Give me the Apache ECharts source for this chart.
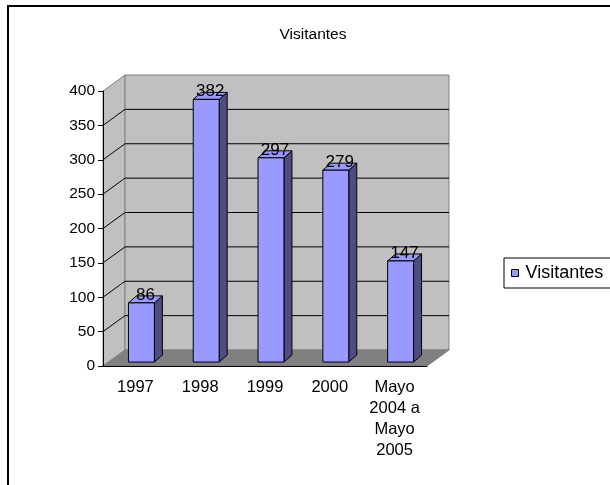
<!DOCTYPE html>
<html>
<head>
<meta charset="utf-8">
<script src="https://cdn.jsdelivr.net/npm/echarts@6/dist/echarts.min.js"></script>
<style>
  html, body { margin: 0; padding: 0; background: #fff; }
  #chart { width: 610px; height: 485px; }
</style>
</head>
<body>
<div id="chart"></div>
<script>
const categories = ['1997', '1998', '1999', '2000', 'Mayo\n2004 a\nMayo\n2005']
const visitantes = [86, 382, 297, 279, 147]
const yTicks = [0, 50, 100, 150, 200, 250, 300, 350, 400]

const FONT = "'Liberation Sans', Arial, sans-serif"
// 3D look: wall depth and bar depth (pixels)
const WALL_DX = 22
const WALL_DY = -16
const BAR_OX = 6
const BAR_OY = -4
const BAR_DX = 8
const BAR_DY = -7

const chart = echarts.init(document.getElementById('chart'))

const renderWalls = (params, api) => {
  const cs = params.coordSys
  const x0 = cs.x
  const x1 = cs.x + cs.width
  const yTop = api.coord([0, yTicks[yTicks.length - 1]])[1]
  const yBot = api.coord([0, 0])[1]
  const children = [
    {
      type: 'polygon',
      shape: { points: [[x0, yTop], [x0, yBot], [x0 + WALL_DX, yBot + WALL_DY], [x0 + WALL_DX, yTop + WALL_DY]] },
      style: { fill: '#c0c0c0', stroke: '#808080', lineWidth: 1 }
    },
    {
      type: 'rect',
      shape: { x: x0 + WALL_DX, y: yTop + WALL_DY, width: x1 - x0, height: yBot - yTop },
      style: { fill: '#c0c0c0', stroke: '#808080', lineWidth: 1 }
    },
    {
      type: 'polygon',
      shape: { points: [[x0, yBot], [x1, yBot], [x1 + WALL_DX, yBot + WALL_DY], [x0 + WALL_DX, yBot + WALL_DY]] },
      style: { fill: '#808080', stroke: '#808080', lineWidth: 1 }
    }
  ]
  yTicks.slice(1, -1).forEach(v => {
    const y = api.coord([0, v])[1]
    children.push({
      type: 'polyline',
      shape: { points: [[x0, y], [x0 + WALL_DX, y + WALL_DY], [x1 + WALL_DX, y + WALL_DY]] },
      style: { stroke: '#000', lineWidth: 1, fill: null }
    })
  })
  return { type: 'group', children }
}

const renderBar = (params, api) => {
  const i = api.value(0)
  const v = api.value(1)
  const top = api.coord([i, v])
  const base = api.coord([i, 0])
  const bw = api.size([1, 0])[0] * 0.4
  const fx = top[0] + BAR_OX - bw / 2
  const ty = top[1] + BAR_OY
  const by = base[1] + BAR_OY
  return {
    type: 'group',
    children: [
      {
        type: 'polygon',
        shape: { points: [[fx + bw, ty], [fx + bw + BAR_DX, ty + BAR_DY], [fx + bw + BAR_DX, by + BAR_DY], [fx + bw, by]] },
        style: { fill: '#4d4d80', stroke: '#000', lineWidth: 1 }
      },
      {
        type: 'polygon',
        shape: { points: [[fx, ty], [fx + BAR_DX, ty + BAR_DY], [fx + bw + BAR_DX, ty + BAR_DY], [fx + bw, ty]] },
        style: { fill: '#9999ff', stroke: '#000', lineWidth: 1 }
      },
      {
        type: 'rect',
        shape: { x: fx, y: ty, width: bw, height: by - ty },
        style: { fill: '#9999ff', stroke: '#000', lineWidth: 1 }
      },
      {
        type: 'text',
        style: {
          text: String(v),
          x: fx + (bw + BAR_DX) / 2,
          y: ty - 8,
          align: 'center',
          verticalAlign: 'middle',
          fill: '#000',
          font: '17px ' + FONT
        }
      }
    ]
  }
}

const option = {
  animation: false,
  textStyle: { fontFamily: FONT },
  title: {
    text: 'Visitantes',
    left: 308,
    textAlign: 'center',
    top: 22,
    textStyle: { fontSize: 15.5, fontWeight: 'normal', color: '#000', fontFamily: FONT }
  },
  legend: {
    data: ['Visitantes'],
    left: 504,
    top: 258,
    padding: [6, 40, 6, 7],
    borderColor: '#000',
    borderWidth: 1,
    icon: 'rect',
    itemWidth: 7,
    itemHeight: 7,
    itemStyle: { borderColor: '#000', borderWidth: 1 },
    textStyle: { fontSize: 18, color: '#000', fontFamily: FONT, padding: [0, 0, 0, 2] }
  },
  graphic: [
    {
      type: 'rect',
      shape: { x: 8, y: 6, width: 700, height: 600 },
      style: { fill: null, stroke: '#000', lineWidth: 2 }
    }
  ],
  grid: { left: 103, right: 183, top: 91, bottom: 119 },
  xAxis: {
    type: 'category',
    data: categories,
    z: 5,
    axisLine: { lineStyle: { color: '#000', width: 1 } },
    axisTick: { length: 7, lineStyle: { color: '#000' } },
    axisLabel: { color: '#000', fontSize: 16.5, lineHeight: 21, margin: 11, fontFamily: FONT, interval: 0 }
  },
  yAxis: {
    type: 'value',
    min: 0,
    max: 400,
    interval: 50,
    z: 5,
    axisLine: { show: true, lineStyle: { color: '#000', width: 1 } },
    axisTick: { show: true, length: 5, lineStyle: { color: '#000' } },
    axisLabel: { color: '#000', fontSize: 15.5, margin: 8, fontFamily: FONT },
    splitLine: { show: false }
  },
  series: [
    {
      name: 'walls',
      type: 'custom',
      z: 1,
      silent: true,
      clip: false,
      renderItem: renderWalls,
      data: [[0, 0]]
    },
    {
      name: 'Visitantes',
      type: 'custom',
      z: 2,
      clip: false,
      itemStyle: { color: '#9999ff' },
      renderItem: renderBar,
      data: visitantes.map((v, i) => [i, v])
    }
  ]
}

chart.setOption(option)
</script>
</body>
</html>
